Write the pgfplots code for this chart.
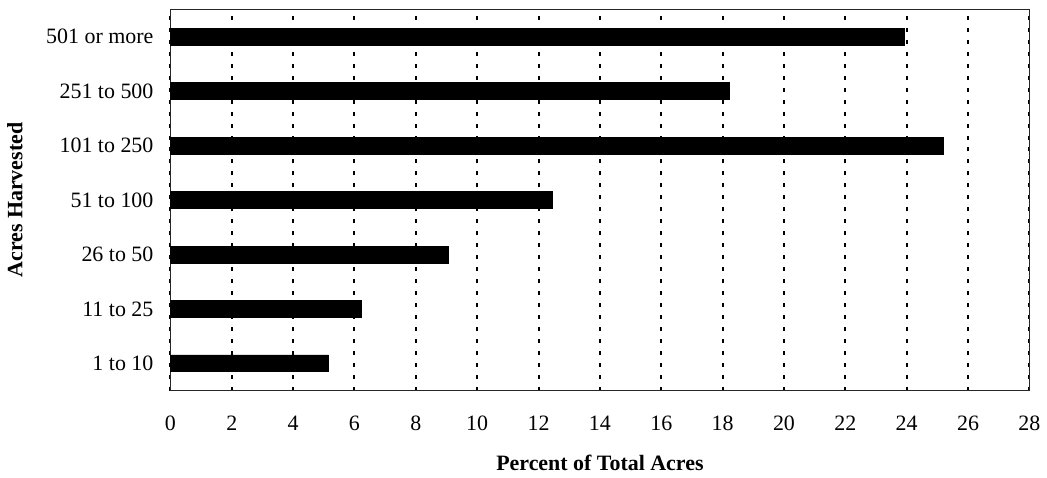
\documentclass[border=0pt]{standalone}
\usepackage{pgfplots}
\pgfplotsset{compat=1.18}
\usepackage{fontspec}
\setmainfont{Liberation Serif}

\begin{document}
\begin{tikzpicture}
\begin{axis}[
at={(0pt,0pt)}, anchor=south west,
scale only axis,
width=431pt, height=191.25pt,
xbar, bar width=8.5pt,
xmin=0, xmax=28,
ymin=-0.5, ymax=6.5,
xtick={0,2,...,28},
ytick={0,1,2,3,4,5,6},
yticklabels={1 to 10,11 to 25,26 to 50,51 to 100,101 to 250,251 to 500,501 or more},
major tick length=0pt,
/pgf/number format/assume math mode=true,
ticklabel style={font=\fontsize{11}{13}\selectfont},
xticklabel style={yshift=-9pt},
yticklabel style={xshift=-5pt},
xmajorgrids,
grid style={black, line width=1pt, dash pattern=on 2pt off 4pt},
axis line style={black!85, line width=0.8pt},
xlabel={\bfseries Percent of Total Acres},
ylabel={\bfseries Acres Harvested},
label style={font=\fontsize{11}{13}\selectfont\bfseries},
xlabel style={at={(0.5,0)}, anchor=center, yshift=-36.5pt},
ylabel style={at={(0,0.5)}, anchor=center, yshift=78pt},
]
\addplot [fill=black, draw=black] coordinates {
(5.16,0) (6.21,1) (9.06,2) (12.44,3) (25.21,4) (18.22,5) (23.91,6)
};
\end{axis}
\useasboundingbox (-85.5pt,-42.5pt) rectangle (438pt,196pt);
\end{tikzpicture}
\end{document}
